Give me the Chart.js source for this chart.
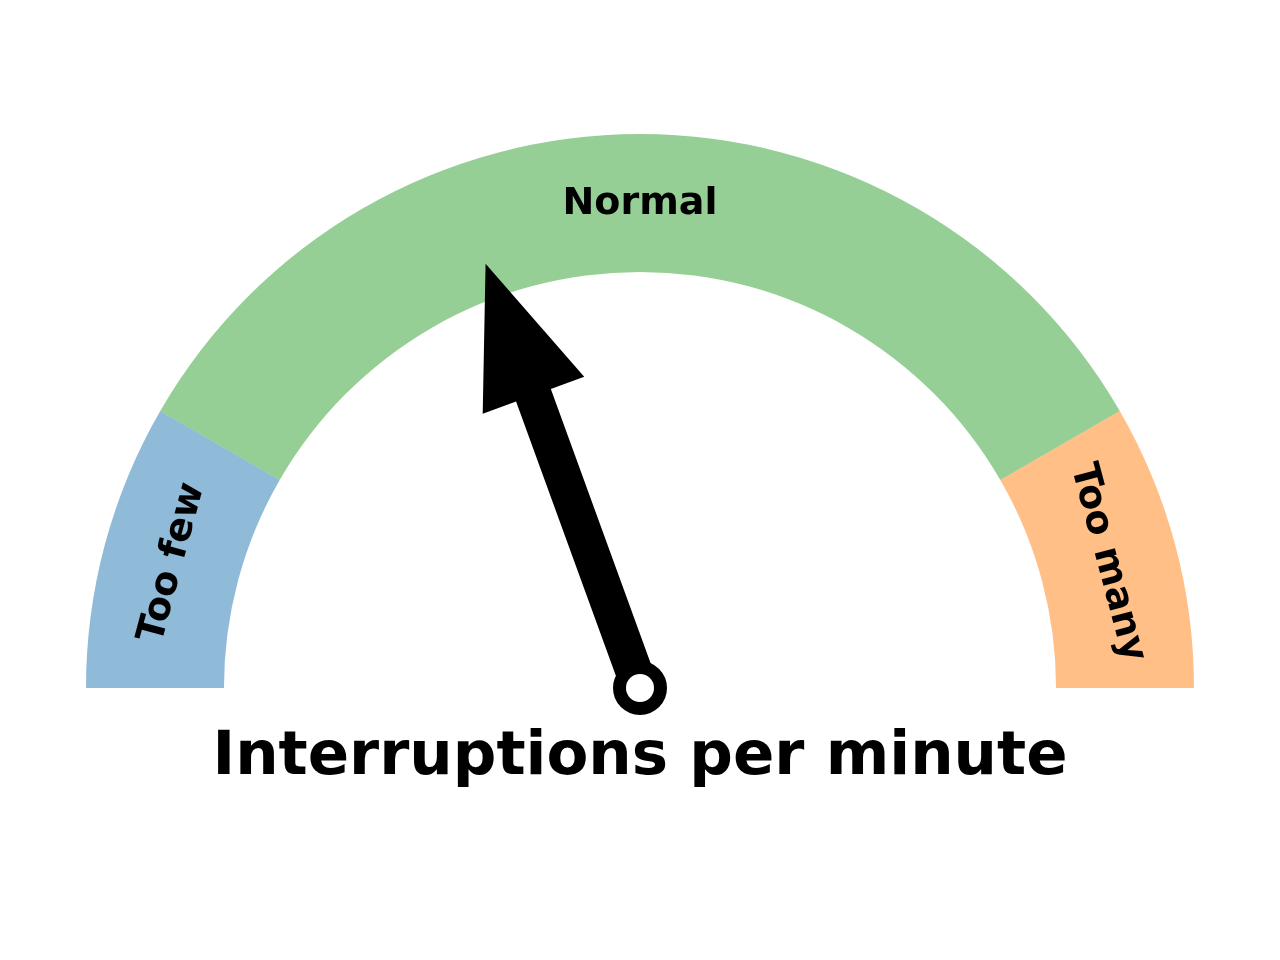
<!DOCTYPE html>
<html>
<head>
<meta charset="utf-8">
<script src="https://cdn.jsdelivr.net/npm/chart.js@4/dist/chart.umd.min.js"></script>
<style>
  html, body { margin: 0; padding: 0; background: #ffffff; }
  #wrap { width: 1280px; height: 960px; position: relative; }
</style>
</head>
<body>
<div id="wrap"><canvas id="gauge"></canvas></div>
<script>
const zones = ["Too few", "Normal", "Too many"];
const zoneSizes = [3, 12, 3];
const zoneColors = ["rgba(31,119,180,0.5)", "rgba(44,160,44,0.5)", "rgba(255,127,14,0.5)"];
const needleValue = 7;
const title = "Interruptions per minute";

const font = "'DejaVu Sans', sans-serif";

// labels along the ring, needle and title
const gaugeExtras = {
  id: "gaugeExtras",
  afterDatasetsDraw(chart) {
    const ctx = chart.ctx;
    const meta = chart.getDatasetMeta(0);
    const arcs = meta.data;
    const cx = arcs[0].x;
    const cy = arcs[0].y;
    const outer = arcs[0].outerRadius;
    const inner = arcs[0].innerRadius;
    const mid = (outer + inner) / 2;

    // zone labels
    ctx.save();
    ctx.fillStyle = "#000";
    ctx.font = "bold 38px " + font;
    ctx.textAlign = "center";
    ctx.textBaseline = "alphabetic";
    arcs.forEach((a, i) => {
      const ang = (a.startAngle + a.endAngle) / 2;
      const x = cx + mid * Math.cos(ang);
      const y = cy + mid * Math.sin(ang);
      ctx.save();
      ctx.translate(x, y);
      ctx.rotate(ang + Math.PI / 2);
      ctx.fillText(zones[i], 0, 11);
      ctx.restore();
    });
    ctx.restore();

    // needle
    const total = zoneSizes.reduce((s, v) => s + v, 0);
    const ang = -Math.PI + (needleValue / total) * Math.PI;
    const ux = Math.cos(ang), uy = Math.sin(ang);
    const nx = -uy, ny = ux;
    const len = outer * 0.815;
    const shaftW = 37, headW = 108, headL = 140;
    const b = len - headL;
    const pt = (along, side) => [cx + ux * along + nx * side, cy + uy * along + ny * side];
    const poly = [
      pt(0, -shaftW / 2), pt(b, -shaftW / 2), pt(b, -headW / 2), pt(len, 0),
      pt(b, headW / 2), pt(b, shaftW / 2), pt(0, shaftW / 2)
    ];
    ctx.save();
    ctx.fillStyle = "#000";
    ctx.beginPath();
    poly.forEach((p, i) => (i ? ctx.lineTo(p[0], p[1]) : ctx.moveTo(p[0], p[1])));
    ctx.closePath();
    ctx.fill();

    ctx.beginPath();
    ctx.arc(cx, cy, 20.5, 0, Math.PI * 2);
    ctx.fillStyle = "#fff";
    ctx.fill();
    ctx.lineWidth = 13;
    ctx.strokeStyle = "#000";
    ctx.stroke();

    // title under the gauge
    ctx.fillStyle = "#000";
    ctx.font = "bold 61px " + font;
    ctx.textAlign = "center";
    ctx.textBaseline = "alphabetic";
    ctx.fillText(title, cx, cy + 86);
    ctx.restore();
  }
};

new Chart(document.getElementById("gauge"), {
  type: "doughnut",
  data: {
    labels: zones,
    datasets: [
      {
        data: zoneSizes,
        backgroundColor: zoneColors,
        hoverBackgroundColor: zoneColors,
        borderWidth: 0,
      },
    ],
  },
  options: {
    responsive: true,
    maintainAspectRatio: false,
    rotation: -90,
    circumference: 180,
    cutout: "75.1%",
    animation: false,
    events: [],
    layout: {
      padding: { left: 86, right: 86, top: 134, bottom: 272 },
    },
    plugins: {
      legend: { display: false },
      tooltip: { enabled: false },
    },
  },
  plugins: [gaugeExtras],
});
</script>
</body>
</html>
